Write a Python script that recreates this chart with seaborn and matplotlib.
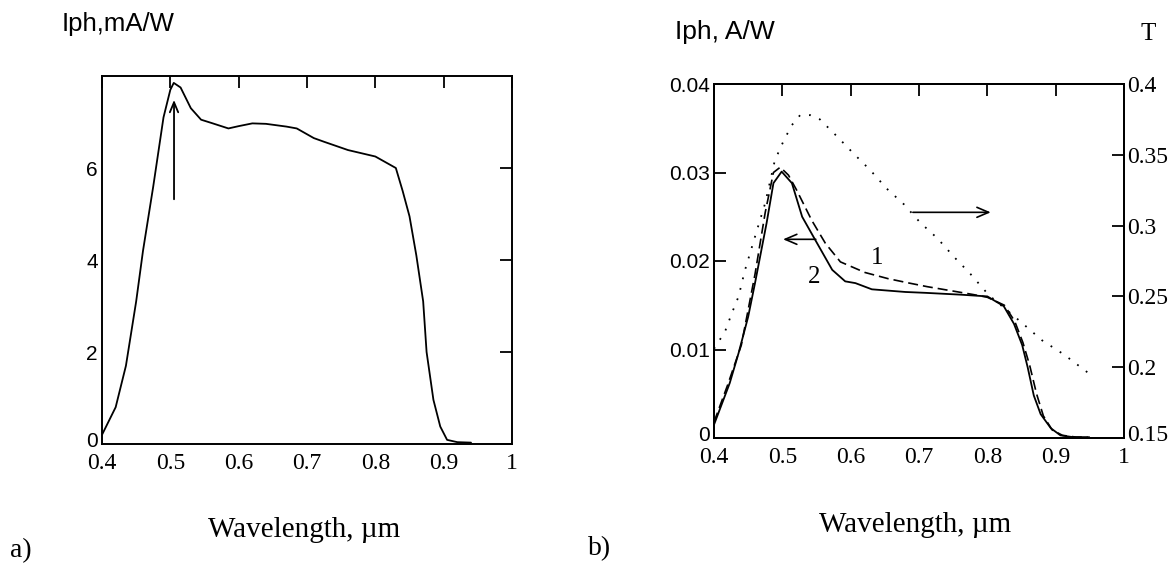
import matplotlib
matplotlib.use("Agg")
import matplotlib.pyplot as plt
import matplotlib.transforms as mtransforms
import seaborn as sns

# ---------------- data ----------------
# panel a) photoresponse, mA/W
wl_a = [0.40, 0.42, 0.435, 0.45, 0.46, 0.475, 0.49, 0.50, 0.505, 0.515, 0.53, 0.545,
        0.56, 0.585, 0.60, 0.62, 0.64, 0.67, 0.685, 0.71, 0.725, 0.76, 0.80, 0.83,
        0.84, 0.85, 0.86, 0.87, 0.875, 0.885, 0.895, 0.905, 0.92, 0.94]
iph_a = [0.2, 0.8, 1.7, 3.1, 4.2, 5.6, 7.1, 7.7, 7.85, 7.75, 7.3, 7.05,
         6.98, 6.86, 6.91, 6.97, 6.96, 6.9, 6.86, 6.65, 6.57, 6.39, 6.25, 6.0,
         5.5, 4.95, 4.1, 3.1, 2.0, 0.96, 0.38, 0.09, 0.04, 0.03]

# panel b) curve 2 (solid), A/W
wl_2 = [0.40, 0.423, 0.436, 0.45, 0.46, 0.477, 0.487, 0.499, 0.514, 0.529, 0.548,
        0.573, 0.592, 0.607, 0.631, 0.68, 0.71, 0.76, 0.80, 0.824, 0.839, 0.851,
        0.859, 0.868, 0.878, 0.893, 0.907, 0.925, 0.946]
iph_2 = [0.0015, 0.0062, 0.0096, 0.0137, 0.0175, 0.0243, 0.0288, 0.0301, 0.0288,
         0.0250, 0.0224, 0.0190, 0.0177, 0.0175, 0.0168, 0.0165, 0.0164, 0.0162,
         0.0160, 0.0149, 0.0129, 0.0105, 0.0080, 0.0048, 0.0027, 0.0011, 0.0003,
         0.0001, 0.0001]

# panel b) curve 1 (dashed), A/W
wl_1 = [0.40, 0.42, 0.44, 0.46, 0.475, 0.487, 0.497, 0.509, 0.521, 0.543, 0.563,
        0.585, 0.621, 0.655, 0.686, 0.712, 0.75, 0.78, 0.80, 0.825, 0.84, 0.852,
        0.862, 0.872, 0.882, 0.895, 0.91, 0.93, 0.95]
iph_1 = [0.0018, 0.0060, 0.0105, 0.0185, 0.0255, 0.0300, 0.0306, 0.0297, 0.0280,
         0.0246, 0.0220, 0.0199, 0.0187, 0.0180, 0.0175, 0.0171, 0.0166, 0.0162,
         0.0159, 0.0150, 0.0132, 0.0108, 0.0082, 0.0050, 0.0025, 0.0009, 0.0003,
         0.0001, 0.0001]

# panel b) transmission T (dotted, right axis)
wl_t = [0.40, 0.416, 0.426, 0.436, 0.445, 0.463, 0.475, 0.489, 0.502, 0.514, 0.526,
        0.541, 0.555, 0.58, 0.604, 0.629, 0.653, 0.678, 0.702, 0.727, 0.751, 0.775,
        0.802, 0.849, 0.880, 0.912, 0.953]
t_vals = [0.213, 0.225, 0.238, 0.250, 0.268, 0.297, 0.316, 0.346, 0.360, 0.371, 0.378,
          0.378, 0.375, 0.363, 0.351, 0.339, 0.326, 0.315, 0.302, 0.291, 0.278, 0.266,
          0.251, 0.232, 0.219, 0.209, 0.194]

x_ticks = [0.4, 0.5, 0.6, 0.7, 0.8, 0.9, 1.0]
x_labels = ["0.4", "0.5", "0.6", "0.7", "0.8", "0.9", "1"]
ya_ticks = [0, 2, 4, 6]
ya_labels = ["0", "2", "4", "6"]
yb_ticks = [0, 0.01, 0.02, 0.03, 0.04]
yb_labels = ["0", "0.01", "0.02", "0.03", "0.04"]
t_ticks = [0.15, 0.2, 0.25, 0.3, 0.35, 0.4]
t_labels = ["0.15", "0.2", "0.25", "0.3", "0.35", "0.4"]

# ---------------- style ----------------
sns.set_theme(style="white")
plt.rcParams["font.family"] = ["Liberation Sans", "DejaVu Sans"]
plt.rcParams["axes.edgecolor"] = "black"
plt.rcParams["text.color"] = "black"
plt.rcParams["xtick.color"] = "black"
plt.rcParams["ytick.color"] = "black"

SERIF = ["Liberation Serif", "DejaVu Serif"]
SANS = ["Liberation Sans", "DejaVu Sans"]

W, H = 1176, 563
fig = plt.figure(figsize=(W / 100, H / 100), dpi=100)
fig.patch.set_facecolor("white")


def box(l, t, r, b):
    return [l / W, 1 - b / H, (r - l) / W, (b - t) / H]


def style_axes(ax):
    for s in ax.spines.values():
        s.set_visible(True)
        s.set_color("black")
        s.set_linewidth(1.4)
    ax.tick_params(direction="in", length=8.5, width=1.3, colors="black")
    ax.set_xlabel("")
    ax.set_ylabel("")


def lift_first_ylabel(ax, pts=3.5):
    lab = ax.get_yticklabels()[0]
    lab.set_transform(lab.get_transform() +
                      mtransforms.ScaledTranslation(0, pts / 72, fig.dpi_scale_trans))


axa = fig.add_axes(box(102, 76, 512, 444))
axb = fig.add_axes(box(714, 84, 1124, 438))

# ---- panel a ----
sns.lineplot(x=wl_a, y=iph_a, ax=axa, color="black", lw=1.3, sort=False, estimator=None)
axa.set_xlim(0.4, 1.0)
axa.set_ylim(0, 8)
style_axes(axa)
axa.set_xticks(x_ticks)
axa.set_xticklabels(x_labels, fontfamily=SERIF, fontsize=17)
axa.set_yticks(ya_ticks)
axa.set_yticklabels(ya_labels, fontfamily=SANS, fontsize=15)
axa.tick_params(top=True, right=True, labeltop=False, labelright=False)
axa.tick_params(axis="x", pad=6.5)
axa.tick_params(axis="y", pad=3)
lift_first_ylabel(axa)
axa.annotate("", xy=(0.5054, 7.54), xytext=(0.5054, 5.26),
             arrowprops=dict(arrowstyle="->,head_length=0.6,head_width=0.25",
                             color="black", lw=1.3))

# ---- panel b ----
sns.lineplot(x=wl_2, y=iph_2, ax=axb, color="black", lw=1.3, sort=False, estimator=None)
sns.lineplot(x=wl_1, y=iph_1, ax=axb, color="black", lw=1.2, sort=False, estimator=None,
             linestyle=(0, (6, 3)))
axb.set_xlim(0.4, 1.0)
axb.set_ylim(0, 0.04)
style_axes(axb)
axb.set_xticks(x_ticks)
axb.set_xticklabels(x_labels, fontfamily=SERIF, fontsize=17)
axb.set_yticks(yb_ticks)
axb.set_yticklabels(yb_labels, fontfamily=SANS, fontsize=15)
axb.tick_params(top=True, right=False, labeltop=False)
axb.tick_params(axis="x", pad=6.5)
axb.tick_params(axis="y", pad=3)
lift_first_ylabel(axb)

axt = axb.twinx()
sns.lineplot(x=wl_t, y=t_vals, ax=axt, color="black", lw=1.3, sort=False, estimator=None,
             linestyle=(0, (1, 5)))
axt.set_ylim(0.15, 0.4)
style_axes(axt)
axt.set_yticks(t_ticks)
axt.set_yticklabels(t_labels, fontfamily=SERIF, fontsize=17)
axt.tick_params(axis="y", pad=2, left=False, right=True)
lift_first_ylabel(axt)
axt.grid(False)
axb.grid(False)
axa.grid(False)

axb.annotate("", xy=(0.809, 0.0255), xytext=(0.687, 0.0255),
             arrowprops=dict(arrowstyle="->,head_length=0.7,head_width=0.3",
                             color="black", lw=1.2))
axb.annotate("", xy=(0.497, 0.02245), xytext=(0.553, 0.02245),
             arrowprops=dict(arrowstyle="->,head_length=0.7,head_width=0.3",
                             color="black", lw=1.2))
axb.text(0.639, 0.0203, "1", fontfamily=SERIF, fontsize=18, ha="center", va="center")
axb.text(0.546, 0.0182, "2", fontfamily=SERIF, fontsize=18, ha="center", va="center")

# ---- figure texts ----
def ftext(x, y, s, **kw):
    fig.text(x / W, 1 - y / H, s, **kw)

ftext(62, 31, "Iph,mA/W", fontfamily=SANS, fontsize=18.5, ha="left", va="baseline")
ftext(675, 39, "Iph, A/W", fontfamily=SANS, fontsize=19, ha="left", va="baseline")
ftext(1148, 40, "T", fontfamily=SERIF, fontsize=18, ha="center", va="baseline")
ftext(304, 537, "Wavelength, \u00b5m", fontfamily=SERIF, fontsize=21, ha="center", va="baseline")
ftext(915, 532, "Wavelength, \u00b5m", fontfamily=SERIF, fontsize=21, ha="center", va="baseline")
ftext(10, 557, "a)", fontfamily=SERIF, fontsize=20, ha="left", va="baseline")
ftext(588, 555, "b)", fontfamily=SERIF, fontsize=20, ha="left", va="baseline")

fig.savefig("out.png", dpi=100, facecolor="white")
